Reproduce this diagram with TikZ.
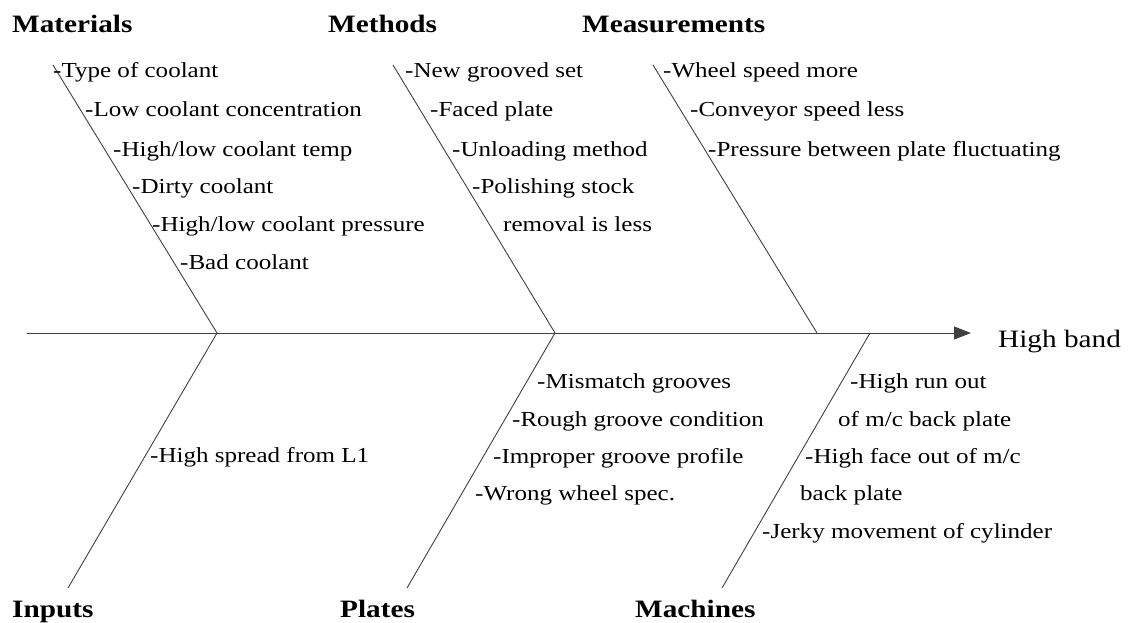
\documentclass[tikz,border=0pt]{standalone}
\usepackage{fontspec}
\setmainfont[FakeStretch=1.17]{Liberation Serif}
\usetikzlibrary{arrows.meta}
\begin{document}
\begin{tikzpicture}[x=1pt,y=-1pt,
  bone/.style={draw=black!75,line width=0.9pt},
  title/.style={anchor=base west,inner sep=0pt,font=\bfseries\fontsize{25}{29}\selectfont},
  item/.style={anchor=base west,inner sep=0pt,font=\fontsize{21.4}{25}\selectfont},
  effect/.style={anchor=base west,inner sep=0pt,font=\fontsize{25}{29}\selectfont}]
\useasboundingbox (0,0) rectangle (1129,623);
% coordinates of the bones
\coordinate (tail) at (27,333);
\coordinate (head) at (971,333);
\coordinate (jA) at (217,333);
\coordinate (jB) at (555,333);
\coordinate (jC) at (817,333);
\coordinate (jD) at (870,333);
\coordinate (matTop) at (53,65);
\coordinate (metTop) at (393,65);
\coordinate (meaTop) at (653,65);
\coordinate (inpBot) at (68,588);
\coordinate (plaBot) at (407,588);
\coordinate (macBot) at (722,588);
% spine and ribs
\draw[bone,-{Triangle[length=17pt,width=13pt]}] (tail) -- (head);
\draw[bone] (matTop) -- (jA) -- (inpBot);
\draw[bone] (metTop) -- (jB) -- (plaBot);
\draw[bone] (meaTop) -- (jC);
\draw[bone] (jD) -- (macBot);
% titles
\node[title] (mat) at (12,33) {Materials};
\node[title] (met) at (328,33) {Methods};
\node[title] (mea) at (582,33) {Measurements};
\node[title] (inp) at (12,617) {Inputs};
\node[title] (pla) at (340,617) {Plates};
\node[title] (mac) at (635,617) {Machines};
\node[effect] (eff) at (998,347) {High band};
% Materials
\node[item] (m1) at (53,78) {-Type of coolant};
\node[item] (m2) at (85,117) {-Low coolant concentration};
\node[item] (m3) at (113,156) {-High/low coolant temp};
\node[item] (m4) at (132,193) {-Dirty coolant};
\node[item] (m5) at (152,231) {-High/low coolant pressure};
\node[item] (m6) at (180,269) {-Bad coolant};
% Methods
\node[item] (t1) at (405,78) {-New grooved set};
\node[item] (t2) at (430,117) {-Faced plate};
\node[item] (t3) at (452,156) {-Unloading method};
\node[item] (t4) at (472,193) {-Polishing stock};
\node[item] (t5) at (503,231) {removal is less};
% Measurements
\node[item] (s1) at (663,78) {-Wheel speed more};
\node[item] (s2) at (690,117) {-Conveyor speed less};
\node[item] (s3) at (708,156) {-Pressure between plate fluctuating};
% Inputs
\node[item] (i1) at (150,462) {-High spread from L1};
% Plates
\node[item] (p1) at (537,388) {-Mismatch grooves};
\node[item] (p2) at (512,426) {-Rough groove condition};
\node[item] (p3) at (493,463) {-Improper groove profile};
\node[item] (p4) at (475,500) {-Wrong wheel spec.};
% Machines
\node[item] (c1) at (850,388) {-High run out};
\node[item] (c2) at (838,426) {of m/c back plate};
\node[item] (c3) at (805,463) {-High face out of m/c};
\node[item] (c4) at (800,500) {back plate};
\node[item] (c5) at (762,538) {-Jerky movement of cylinder};
\end{tikzpicture}
\end{document}
